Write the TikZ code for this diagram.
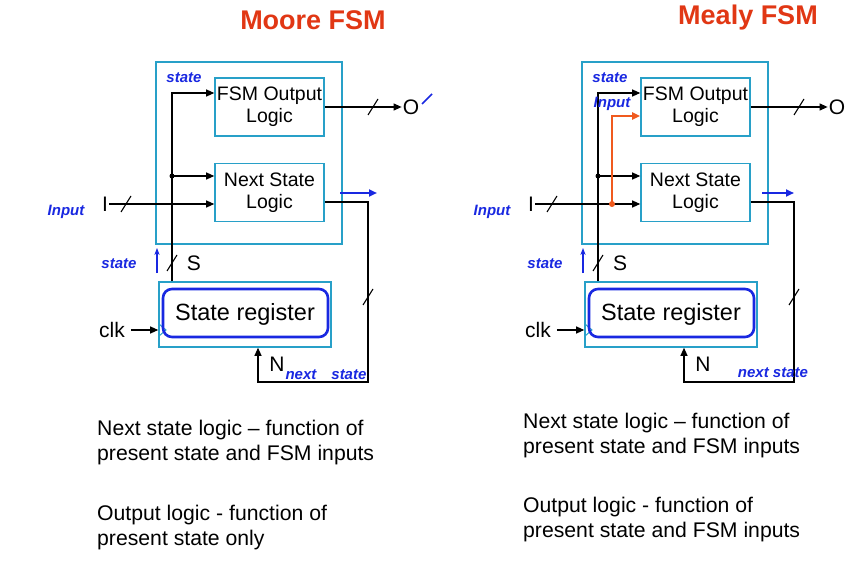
\documentclass[tikz,border=0pt]{standalone}
\usepackage{fontspec}
\setmainfont{Liberation Sans}
\usetikzlibrary{arrows.meta,positioning}

\definecolor{boxcyan}{RGB}{40,160,200}
\definecolor{inkblue}{RGB}{25,40,225}
\definecolor{titlered}{RGB}{225,55,20}
\definecolor{mealyorange}{RGB}{240,90,30}

\begin{document}
\begin{tikzpicture}[x=1pt,y=-1pt,
    >={Triangle[length=8pt,width=7pt]},
    frame/.style={draw=boxcyan, line width=2pt, minimum width=186pt, minimum height=182pt},
    logic/.style={draw=boxcyan, line width=1.6pt, minimum width=109pt, minimum height=58pt, align=center, inner sep=1pt, font=\fontsize{19.5}{22}\selectfont},
    register/.style={draw=boxcyan, line width=1.6pt, minimum width=172pt, minimum height=65pt, font=\fontsize{23.5}{25}\selectfont},
    port/.style={font=\fontsize{21}{24}\selectfont, inner sep=1pt},
    wire/.style={line width=1.1pt},
    ink/.style={text=inkblue, inner sep=0pt, font=\fontsize{15}{16}\selectfont\bfseries\itshape},
    title/.style={text=titlered, font=\fontsize{27}{30}\selectfont\bfseries},
    note/.style={anchor=west, align=left, inner sep=0pt, font=\fontsize{21.2}{25}\selectfont}
    ]
    \useasboundingbox[fill=white] (0,0) rectangle (868,575);
    \def\busmark#1{\draw[wire] #1 +(-5,8) -- +(5,-8);}

    \node[title] (moore-title) at (313,20) {Moore FSM};
    \node[title] (mealy-title) at (748,18) {Mealy FSM};

    \foreach \fsm/\dx in {moore/0, mealy/426} {
        \begin{scope}[xshift=\dx pt]
            % blocks
            \node[frame] (\fsm-frame) at (249,153) {};
            \node[logic] (\fsm-ol) at (269.5,107) {FSM Output\\Logic};
            \node[logic] (\fsm-ns) at (269.5,192.5) {Next State\\Logic};
            \node[register] (\fsm-sr) at (245,314.5) {State register};
            \draw[boxcyan, line width=1pt] (159,324) -- (166,330) -- (159,336);
            % ports
            \node[port] (\fsm-I) at (105,204) {I};
            \node[port] (\fsm-O) at (411,107) {O};
            \node[port] (\fsm-S) at (194,263) {S};
            \node[port] (\fsm-N) at (277,364) {N};
            \node[port, outer sep=5pt] (\fsm-clk) at (112,330) {clk};
            \coordinate (\fsm-tap) at (172,176);
            \coordinate (\fsm-nc) at (368,382);
            % state bus
            \draw[wire, ->] (\fsm-sr.north -| \fsm-tap) |- ([yshift=14pt]\fsm-ol.west);
            \draw[wire, ->] (\fsm-tap) -- (\fsm-tap -| \fsm-ns.west);
            \fill (\fsm-tap) circle (2.5);
            \busmark{(172,263)}
            % input, output, next state
            \draw[wire, ->] (\fsm-I) -- (\fsm-I -| \fsm-ns.west);
            \busmark{(126,204)}
            \draw[wire, ->] (\fsm-ol) -- (\fsm-O);
            \busmark{(373,107)}
            \draw[wire, ->] ([yshift=-9.5pt]\fsm-ns.east) -| (\fsm-nc) -| ([xshift=13pt]\fsm-sr.south);
            \busmark{(368,297)}
            \draw[wire, ->] (\fsm-clk) -- (\fsm-clk -| \fsm-sr.west);
            % hand marks
            \draw[inkblue, line width=2.6pt, rounded corners=9pt] (163,289) rectangle (328,337);
            \draw[inkblue, line width=2.6pt, -{Stealth[length=7pt]}] (157,273) -- (157,248);
            \node[ink] (\fsm-stl) at (119,264) {state};
            \node[ink] (\fsm-inl) at (66,212) {Input};
            \node[ink] (\fsm-stt) at (184,78) {state};
        \end{scope}
    }

    % mealy: inputs also feed the output logic
    \coordinate (mealy-itap) at (612,204);
    \draw[mealyorange, line width=2pt, ->] (mealy-itap) |- ([yshift=-9pt]mealy-ol.west);
    \fill[mealyorange] (mealy-itap) circle (3);

    % hand notes
    \node[ink] (mealy-inp) at (612,104) {Input};
    \node[ink] (moore-nxt) at (326,375) {next\quad state};
    \node[ink] (mealy-nxt) at (773,373) {next state};
    \draw[inkblue, line width=2pt, ->] (340,193) -- (377,193);
    \draw[inkblue, line width=2pt, ->] (762,193) -- (794,193);
    \draw[inkblue, line width=1.5pt] (422,104) -- (432,94);

    % descriptions
    \node[note] (moore-ns-txt) at (97,442.5) {Next state logic – function of\\present state and FSM inputs};
    \node[note] (moore-ol-txt) at (97,527.5) {Output logic - function of\\present state only};
    \node[note] (mealy-ns-txt) at (523,435.5) {Next state logic – function of\\present state and FSM inputs};
    \node[note] (mealy-ol-txt) at (523,519.5) {Output logic - function of\\present state and FSM inputs};
\end{tikzpicture}
\end{document}
